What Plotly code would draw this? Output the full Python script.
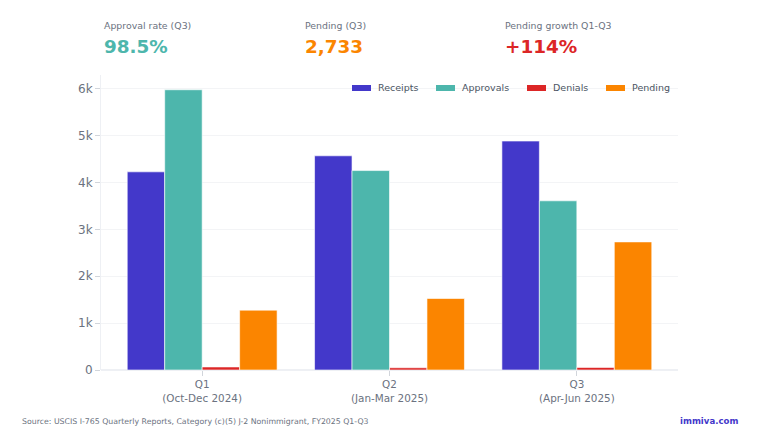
import plotly.graph_objects as go

categories = ["Q1<br>(Oct-Dec 2024)", "Q2<br>(Jan-Mar 2025)", "Q3<br>(Apr-Jun 2025)"]
receipts = [4228, 4570, 4885]
approvals = [5979, 4255, 3610]
denials = [65, 48, 55]
pending = [1277, 1525, 2733]

series_names = ["Receipts", "Approvals", "Denials", "Pending"]
series_values = [receipts, approvals, denials, pending]
series_colors = ["#4338ca", "#4db6ac", "#dc2626", "#fb8500"]

kpi_labels = ["Approval rate (Q3)", "Pending (Q3)", "Pending growth Q1-Q3"]
kpi_values = ["98.5%", "2,733", "+114%"]
kpi_colors = ["#4db6ac", "#fb8500", "#dc2626"]
kpi_x = [102, 303, 503]

legend_x = [352, 436, 527, 606]  # swatch left edges (screen px)

source_text = "Source: USCIS I-765 Quarterly Reports, Category (c)(5) J-2 Nonimmigrant, FY2025 Q1-Q3"
brand_text = "immiva.com"

FONT = "DejaVu Sans"
GRAY = "#6b7280"
OFF = 8  # page body offset
W, H = 760 - OFF, 448 - OFF

L, R, T, B = 101 - OFF, 82, 75 - OFF, 78
pw, ph = W - L - R, H - T - B


def to_paper(px, py):
    px -= OFF
    py -= OFF
    return (px - L) / pw, 1 - (py - T) / ph


fig = go.Figure()
for name, vals, col in zip(series_names, series_values, series_colors):
    fig.add_trace(go.Bar(
        name=name, x=categories, y=vals, showlegend=False,
        marker=dict(color=col, line=dict(color="rgba(255,255,255,0.6)", width=1)),
    ))

annotations = []
shapes = []
for lab, val, col, px in zip(kpi_labels, kpi_values, kpi_colors, kpi_x):
    x, y = to_paper(px, 26)
    annotations.append(dict(
        text=lab, x=x, y=y, xref="paper", yref="paper",
        xanchor="left", yanchor="middle", showarrow=False,
        font=dict(family=FONT, size=9.4, color=GRAY),
    ))
    x, y = to_paper(px, 47)
    annotations.append(dict(
        text="<b>" + val + "</b>", x=x, y=y, xref="paper", yref="paper",
        xanchor="left", yanchor="middle", showarrow=False,
        font=dict(family=FONT, size=18.4, color=col),
    ))

# custom legend with wide swatches
for name, col, lx in zip(series_names, series_colors, legend_x):
    x0, y0 = to_paper(lx, 91)
    x1, y1 = to_paper(lx + 19, 85)
    shapes.append(dict(type="rect", xref="paper", yref="paper", x0=x0, x1=x1, y0=y0, y1=y1,
                       fillcolor=col, line=dict(width=0)))
    tx, ty = to_paper(lx + 24, 88)
    annotations.append(dict(
        text=name, x=tx, y=ty, xref="paper", yref="paper",
        xanchor="left", yanchor="middle", showarrow=False,
        font=dict(family=FONT, size=9.5, color="#4b5563"),
    ))

x, y = to_paper(20, 421)
annotations.append(dict(
    text=source_text, x=x, y=y, xref="paper", yref="paper",
    xanchor="left", yanchor="middle", showarrow=False,
    font=dict(family=FONT, size=7.8, color=GRAY),
))
x, y = to_paper(740, 421)
annotations.append(dict(
    text="<b>" + brand_text + "</b>", x=x, y=y, xref="paper", yref="paper",
    xanchor="right", yanchor="middle", showarrow=False,
    font=dict(family=FONT, size=8.6, color="#4338ca"),
))

fig.update_layout(
    width=W, height=H,
    margin=dict(l=L, r=R, t=T, b=B),
    paper_bgcolor="white", plot_bgcolor="white",
    barmode="group", bargap=0.2, bargroupgap=0,
    font=dict(family=FONT, color=GRAY),
    showlegend=False,
    annotations=annotations,
    shapes=shapes,
    xaxis=dict(tickfont=dict(family=FONT, size=10.4, color=GRAY), showgrid=False,
               showline=False, ticks="outside", ticklen=5, tickcolor="#d1d5db",
               zeroline=False, range=[-0.54, 2.54]),
    yaxis=dict(tickfont=dict(family=FONT, size=12, color=GRAY), gridcolor="#f3f4f6",
               showline=True, linecolor="#eef0f4", ticks="outside", ticklen=5,
               tickcolor="#d1d5db", zeroline=True, zerolinecolor="#eef0f4",
               tickvals=[0, 1000, 2000, 3000, 4000, 5000, 6000],
               ticktext=["0", "1k", "2k", "3k", "4k", "5k", "6k"],
               range=[0, 6294]),
)

fig.write_html("out.html")
